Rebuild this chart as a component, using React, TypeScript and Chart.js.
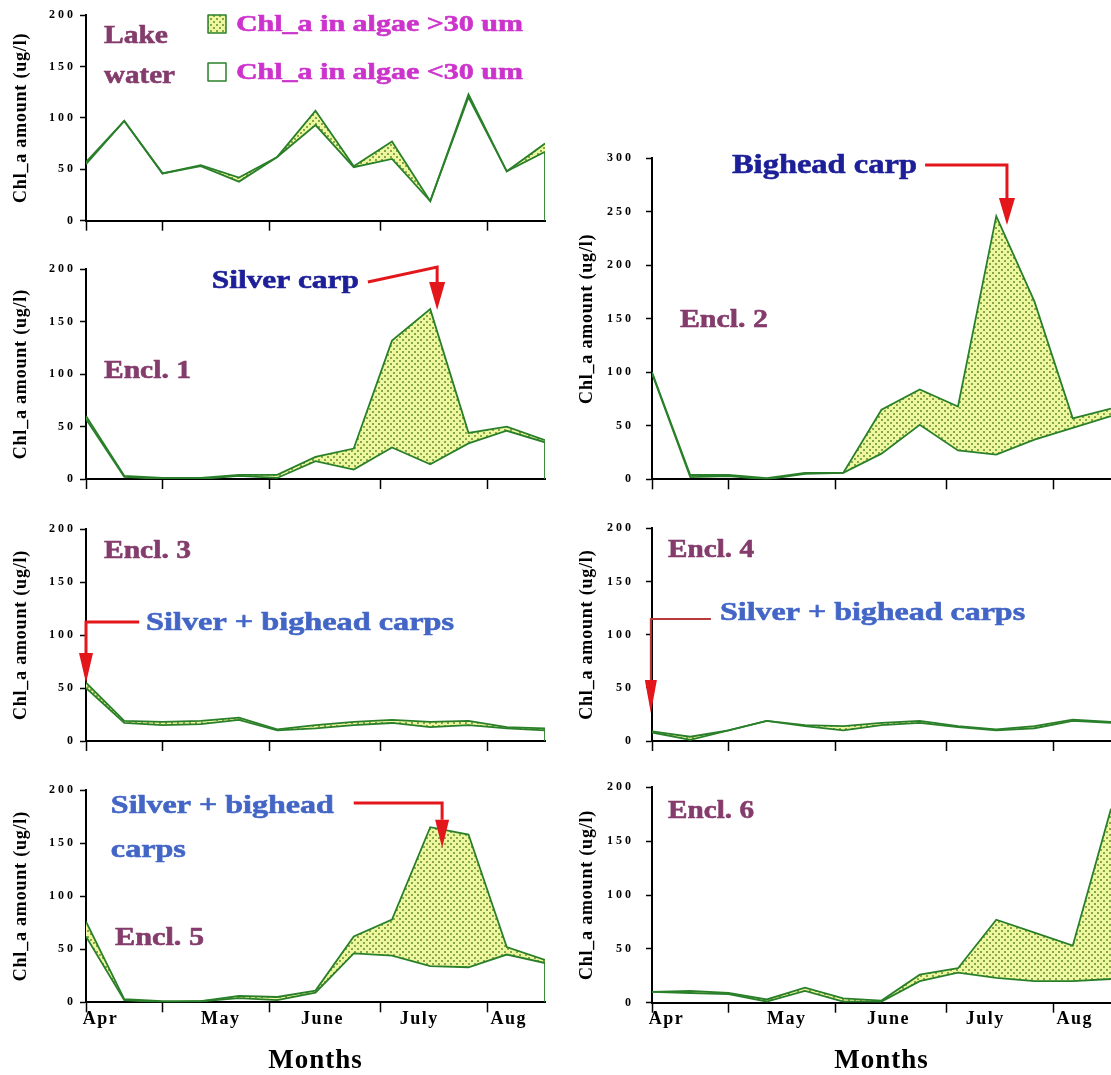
import React, { useEffect, useRef } from "react";
import { Chart, registerables } from "chart.js";

Chart.register(...registerables);

// ---------------- data ----------------
const samples = [0, 1, 2, 3, 4, 5, 6, 7, 8, 9, 10, 11, 12];
const monthNames = ["Apr", "May", "June", "July", "Aug"];
const monthLabelPos = [0.38, 3.52, 6.18, 8.71, 11.05];
const monthBoundaryPos = [0, 2.0, 4.8, 7.7, 10.5];
const yAxisTitle = "Chl_a amount (ug/l)";
const xAxisTitle = "Months";
const legendLabels = ["Chl_a in algae >30 um", "Chl_a in algae <30 um"];
const panelTitles = ["Lake", "water", "Encl. 1", "Encl. 2", "Encl. 3", "Encl. 4", "Encl. 5", "Encl. 6"];
const fishLabels = ["Silver carp", "Bighead carp", "Silver + bighead carps", "Silver + bighead", "carps"];

const lakeUpper = [57, 97, 46, 54, 42, 62, 107, 53, 77, 19, 123, 48, 75];
const lakeLower = [55, 97, 46, 53, 38, 62, 93, 52, 60, 19, 120, 48, 67];
const encl1Upper = [60, 3, 1, 1, 4, 4, 21, 29, 132, 162, 44, 50, 37];
const encl1Lower = [57, 2, 0, 0, 3, 1, 17, 9, 30, 14, 34, 46, 35];
const encl2Upper = [100, 4, 4, 1, 6, 6, 65, 84, 68, 246, 166, 57, 66];
const encl2Lower = [99, 2, 3, 0, 5, 6, 24, 51, 27, 23, 37, 48, 59];
const encl3Upper = [55, 19, 18, 19, 22, 11, 15, 18, 20, 18, 19, 13, 12];
const encl3Lower = [50, 17, 15, 16, 20, 10, 12, 15, 17, 13, 15, 12, 10];
const encl4Upper = [9, 4, 10, 19, 15, 14, 17, 19, 14, 11, 14, 20, 18];
const encl4Lower = [8, 1, 10, 19, 14, 10, 15, 17, 13, 10, 12, 19, 17];
const encl5Upper = [76, 3, 1, 1, 6, 5, 11, 62, 78, 165, 158, 52, 40];
const encl5Lower = [62, 2, 0, 1, 4, 2, 9, 46, 44, 34, 33, 45, 37];
const encl6Upper = [10, 11, 9, 3, 14, 4, 2, 26, 32, 77, 65, 53, 180];
const encl6Lower = [10, 9, 8, 1, 11, 1, 1, 20, 28, 23, 20, 20, 22];

// ---------------- styles ----------------
const FONT = '"Liberation Serif", "Times New Roman", Times, serif';
const LINE_GREEN = "#2a802a";
const PATTERN_BG = "#eef6a0";
const PATTERN_DOT = "#86a846";
const MAROON = "#843c6c";
const MAGENTA = "#cc33cc";
const NAVY = "#1c1f97";
const BLUE = "#4366c6";
const RED = "#e3161c";
const DARK_RED = "#b83a3a";

const Y_AXIS_W = 86;
const COLS = [
  { left: 0, width: 555, padRight: 10, closeEnd: true, tickPad: 4 },
  { left: 566, width: 545, padRight: 0, closeEnd: false, tickPad: 12 },
];

type Note =
  | { kind: "text"; text: string; x: number; y: number; size: number; width: number; color: string }
  | { kind: "box"; x0: number; x1: number; y0: number; y1: number; fill: "pattern" | "white" }
  | { kind: "arrow"; pts: number[][]; head: number; hw: number; lw: number; color: string; headColor: string };

const panels: any[] = [
  {
    key: "lake", col: 0, upper: lakeUpper, lower: lakeLower, yMax: 200,
    canvasTop: 0, plotTop: 15, plotBottom: 220.7, canvasBottom: 240, months: false,
    notes: [
      { kind: "text", text: panelTitles[0], x: 0.47, y: 172.8, size: 26, width: 64, color: MAROON },
      { kind: "text", text: panelTitles[1], x: 0.47, y: 133.9, size: 26, width: 71, color: MAROON },
      { kind: "box", x0: 3.19, x1: 3.66, y0: 200.1, y1: 182.5, fill: "pattern" },
      { kind: "box", x0: 3.19, x1: 3.66, y0: 153.3, y1: 135.8, fill: "white" },
      { kind: "text", text: legendLabels[0], x: 3.92, y: 184.4, size: 24, width: 287, color: MAGENTA },
      { kind: "text", text: legendLabels[1], x: 3.92, y: 137.8, size: 24, width: 287, color: MAGENTA },
    ] as Note[],
  },
  {
    key: "e1", col: 0, upper: encl1Upper, lower: encl1Lower, yMax: 200,
    canvasTop: 243, plotTop: 269.3, plotBottom: 479, canvasBottom: 500, months: false,
    notes: [
      { kind: "text", text: fishLabels[0], x: 3.29, y: 182.2, size: 25, width: 147, color: NAVY },
      { kind: "text", text: panelTitles[2], x: 0.47, y: 96.3, size: 26, width: 87, color: MAROON },
      { kind: "arrow", pts: [[7.37, 187.9], [9.18, 202.2], [9.18, 161.2]], head: 28, hw: 8, lw: 3, color: RED, headColor: RED },
    ] as Note[],
  },
  {
    key: "e2", col: 1, upper: encl2Upper, lower: encl2Lower, yMax: 300,
    canvasTop: 134, plotTop: 158.3, plotBottom: 479.3, canvasBottom: 500, months: false,
    notes: [
      { kind: "text", text: fishLabels[1], x: 2.09, y: 286.3, size: 27, width: 185, color: NAVY },
      { kind: "text", text: panelTitles[3], x: 0.73, y: 142.3, size: 26, width: 88, color: MAROON },
      { kind: "arrow", pts: [[7.14, 293.7], [9.28, 293.7], [9.28, 237.7]], head: 27, hw: 8, lw: 3, color: RED, headColor: RED },
    ] as Note[],
  },
  {
    key: "e3", col: 0, upper: encl3Upper, lower: encl3Lower, yMax: 200,
    canvasTop: 503, plotTop: 529, plotBottom: 741, canvasBottom: 762, months: false,
    notes: [
      { kind: "text", text: panelTitles[4], x: 0.47, y: 172.6, size: 26, width: 87, color: MAROON },
      { kind: "text", text: fishLabels[2], x: 1.57, y: 104.7, size: 25, width: 308, color: BLUE },
      { kind: "arrow", pts: [[1.39, 112.3], [0, 112.3], [0, 54.7]], head: 30, hw: 7, lw: 3, color: RED, headColor: RED },
    ] as Note[],
  },
  {
    key: "e4", col: 1, upper: encl4Upper, lower: encl4Lower, yMax: 200,
    canvasTop: 503, plotTop: 528.3, plotBottom: 741, canvasBottom: 762, months: false,
    notes: [
      { kind: "text", text: panelTitles[5], x: 0.42, y: 173, size: 26, width: 86, color: MAROON },
      { kind: "text", text: fishLabels[2], x: 1.78, y: 113.8, size: 25, width: 305, color: BLUE },
      { kind: "arrow", pts: [[1.54, 114.7], [-0.03, 114.7], [-0.03, 26.3]], head: 33, hw: 6, lw: 2, color: DARK_RED, headColor: RED },
    ] as Note[],
  },
  {
    key: "e5", col: 0, upper: encl5Upper, lower: encl5Lower, yMax: 200,
    canvasTop: 765, plotTop: 790, plotBottom: 1002.3, canvasBottom: 1077, months: true,
    notes: [
      { kind: "text", text: fishLabels[3], x: 0.65, y: 178.3, size: 25, width: 223, color: BLUE },
      { kind: "text", text: fishLabels[4], x: 0.65, y: 136.9, size: 25, width: 75, color: BLUE },
      { kind: "text", text: panelTitles[6], x: 0.76, y: 54, size: 26, width: 89, color: MAROON },
      { kind: "arrow", pts: [[7.0, 187.8], [9.31, 187.8], [9.31, 145.5]], head: 28, hw: 7, lw: 3, color: RED, headColor: RED },
    ] as Note[],
  },
  {
    key: "e6", col: 1, upper: encl6Upper, lower: encl6Lower, yMax: 200,
    canvasTop: 765, plotTop: 787.3, plotBottom: 1002.7, canvasBottom: 1077, months: true,
    notes: [
      { kind: "text", text: panelTitles[7], x: 0.42, y: 171.5, size: 26, width: 86, color: MAROON },
    ] as Note[],
  },
];

// ---------------- helpers ----------------
function makePattern(ctx: CanvasRenderingContext2D) {
  const c = document.createElement("canvas");
  c.width = 6;
  c.height = 6;
  const g = c.getContext("2d")!;
  g.fillStyle = PATTERN_BG;
  g.fillRect(0, 0, 6, 6);
  g.fillStyle = PATTERN_DOT;
  g.fillRect(0, 0, 2, 2);
  g.fillRect(3, 3, 2, 2);
  return ctx.createPattern(c, "repeat")!;
}

function patchSpacing(scale: any, method: string, sp: string) {
  if (!scale || !scale[method] || scale[method].__patched) return;
  const orig = scale[method];
  const f: any = function (this: any, ...args: any[]) {
    const ctx = this.ctx;
    const prev = ctx.letterSpacing;
    ctx.letterSpacing = sp;
    try {
      orig.apply(this, args);
    } finally {
      ctx.letterSpacing = prev || "0px";
    }
  };
  f.__patched = true;
  scale[method] = f;
}

const spacingPlugin = {
  id: "letterSpacing",
  beforeDraw(chart: any) {
    patchSpacing(chart.scales.x, "drawLabels", "1.5px");
    patchSpacing(chart.scales.x, "drawTitle", "1px");
    patchSpacing(chart.scales.y, "drawLabels", "3px");
    patchSpacing(chart.scales.y, "drawTitle", "0.8px");
  },
};

function annotationPlugin(notes: Note[], pattern: CanvasPattern) {
  return {
    id: "notes",
    afterDraw(chart: any) {
      const ctx: CanvasRenderingContext2D = chart.ctx;
      const xs = chart.scales.x;
      const ys = chart.scales.y;
      const X = (v: number) => xs.getPixelForValue(v);
      const Y = (v: number) => ys.getPixelForValue(v);
      ctx.save();
      for (const it of notes) {
        if (it.kind === "text") {
          ctx.font = `bold ${it.size}px ${FONT}`;
          ctx.fillStyle = it.color;
          ctx.strokeStyle = it.color;
          ctx.lineWidth = 0.6;
          ctx.lineJoin = "round";
          ctx.textBaseline = "alphabetic";
          ctx.textAlign = "left";
          const w = ctx.measureText(it.text).width;
          ctx.save();
          ctx.translate(X(it.x), Y(it.y));
          ctx.scale(it.width / w, 1);
          ctx.fillText(it.text, 0, 0);
          ctx.strokeText(it.text, 0, 0);
          ctx.restore();
        } else if (it.kind === "box") {
          const x0 = X(it.x0), x1 = X(it.x1), y0 = Y(it.y0), y1 = Y(it.y1);
          ctx.fillStyle = it.fill === "pattern" ? pattern : "#ffffff";
          ctx.fillRect(x0, y0, x1 - x0, y1 - y0);
          ctx.strokeStyle = LINE_GREEN;
          ctx.lineWidth = 1.5;
          ctx.strokeRect(x0, y0, x1 - x0, y1 - y0);
        } else if (it.kind === "arrow") {
          const pts = it.pts.map(([a, b]) => [X(a), Y(b)]);
          const n = pts.length;
          const [tx, ty] = pts[n - 1];
          const [px, py] = pts[n - 2];
          const dx = tx - px, dy = ty - py;
          const L = Math.hypot(dx, dy) || 1;
          const ux = dx / L, uy = dy / L;
          const bx = tx - ux * it.head, by = ty - uy * it.head;
          ctx.beginPath();
          ctx.moveTo(pts[0][0], pts[0][1]);
          for (let i = 1; i < n - 1; i++) ctx.lineTo(pts[i][0], pts[i][1]);
          ctx.lineTo(bx, by);
          ctx.strokeStyle = it.color;
          ctx.lineWidth = it.lw;
          ctx.lineJoin = "miter";
          ctx.lineCap = "butt";
          ctx.stroke();
          ctx.beginPath();
          ctx.moveTo(tx, ty);
          ctx.lineTo(bx - uy * it.hw, by + ux * it.hw);
          ctx.lineTo(bx + uy * it.hw, by - ux * it.hw);
          ctx.closePath();
          ctx.fillStyle = it.headColor;
          ctx.fill();
        }
      }
      ctx.restore();
    },
  };
}

function Panel({ cfg }: { cfg: any }) {
  const ref = useRef<HTMLCanvasElement>(null);
  const col = COLS[cfg.col];
  const h = cfg.canvasBottom - cfg.canvasTop;

  useEffect(() => {
    const canvas = ref.current!;
    const ctx = canvas.getContext("2d")!;
    const pattern = makePattern(ctx);
    const last = samples[samples.length - 1];
    const datasets: any[] = [
      {
        label: legendLabels[1],
        data: samples.map((s, i) => ({ x: s, y: cfg.lower[i] })),
        borderColor: LINE_GREEN,
        borderWidth: 1.8,
        pointRadius: 0,
        fill: false,
        tension: 0,
      },
      {
        label: legendLabels[0],
        data: samples.map((s, i) => ({ x: s, y: cfg.upper[i] })),
        borderColor: LINE_GREEN,
        borderWidth: 1.8,
        pointRadius: 0,
        fill: "-1",
        backgroundColor: pattern,
        tension: 0,
      },
    ];
    if (col.closeEnd) {
      datasets.push({
        label: "edge",
        data: [
          { x: last, y: 0 },
          { x: last, y: cfg.upper[cfg.upper.length - 1] },
        ],
        borderColor: LINE_GREEN,
        borderWidth: 1.8,
        pointRadius: 0,
        fill: false,
      });
    }
    const boundary = new Set(monthBoundaryPos);
    const allTicks = [...monthBoundaryPos, ...monthLabelPos].sort((a, b) => a - b);

    const chart = new Chart(canvas, {
      type: "line",
      data: { datasets },
      options: {
        responsive: false,
        animation: false,
        devicePixelRatio: 1,
        layout: {
          padding: { top: cfg.plotTop - cfg.canvasTop, right: col.padRight, bottom: 0, left: 0 },
        },
        plugins: { legend: { display: false }, tooltip: { enabled: false } },
        scales: {
          x: {
            type: "linear",
            min: 0,
            max: 12,
            afterBuildTicks: (axis: any) => {
              axis.ticks = allTicks.map((v) => ({ value: v }));
            },
            afterFit: (axis: any) => {
              axis.height = cfg.canvasBottom - cfg.plotBottom;
            },
            ticks: {
              autoSkip: false,
              maxRotation: 0,
              minRotation: 0,
              padding: -4,
              color: "#000",
              font: { size: 18, weight: "bold", family: FONT },
              callback: (value: any) => {
                if (!cfg.months) return "";
                const k = monthLabelPos.indexOf(Number(value));
                return k >= 0 ? monthNames[k] : "";
              },
            },
            grid: {
              display: true,
              drawOnChartArea: false,
              drawTicks: true,
              tickLength: 10,
              tickWidth: 1.5,
              tickColor: (c: any) => (c.tick && boundary.has(c.tick.value) ? "#000" : "rgba(0,0,0,0)"),
            },
            border: { display: true, color: "#000", width: 2 },
            title: {
              display: cfg.months,
              text: xAxisTitle,
              color: "#000",
              font: { size: 27, weight: "bold", family: FONT },
              padding: { top: 0, bottom: 0 },
            },
          },
          y: {
            type: "linear",
            min: 0,
            max: cfg.yMax,
            afterFit: (axis: any) => {
              axis.width = Y_AXIS_W;
            },
            ticks: {
              stepSize: 50,
              padding: col.tickPad,
              color: "#000",
              font: { size: 12, weight: "bold", family: FONT },
            },
            grid: {
              display: true,
              drawOnChartArea: false,
              drawTicks: true,
              tickLength: 6,
              tickWidth: 1.5,
              tickColor: "#000",
            },
            border: { display: true, color: "#000", width: 2 },
            title: {
              display: true,
              text: yAxisTitle,
              color: "#000",
              font: { size: 18, weight: "bold", family: FONT },
              padding: { top: 11, bottom: 0 },
            },
          },
        },
      } as any,
      plugins: [spacingPlugin, annotationPlugin(cfg.notes, pattern)],
    });
    return () => chart.destroy();
  }, []);

  return (
    <canvas
      ref={ref}
      width={col.width}
      height={h}
      style={{ position: "absolute", left: col.left, top: cfg.canvasTop, width: col.width, height: h }}
    />
  );
}

export default function App() {
  return (
    <div
      style={{
        position: "fixed",
        left: 0,
        top: 0,
        width: 1111,
        height: 1075,
        overflow: "hidden",
        background: "#ffffff",
      }}
    >
      {panels.map((p) => (
        <Panel key={p.key} cfg={p} />
      ))}
    </div>
  );
}
